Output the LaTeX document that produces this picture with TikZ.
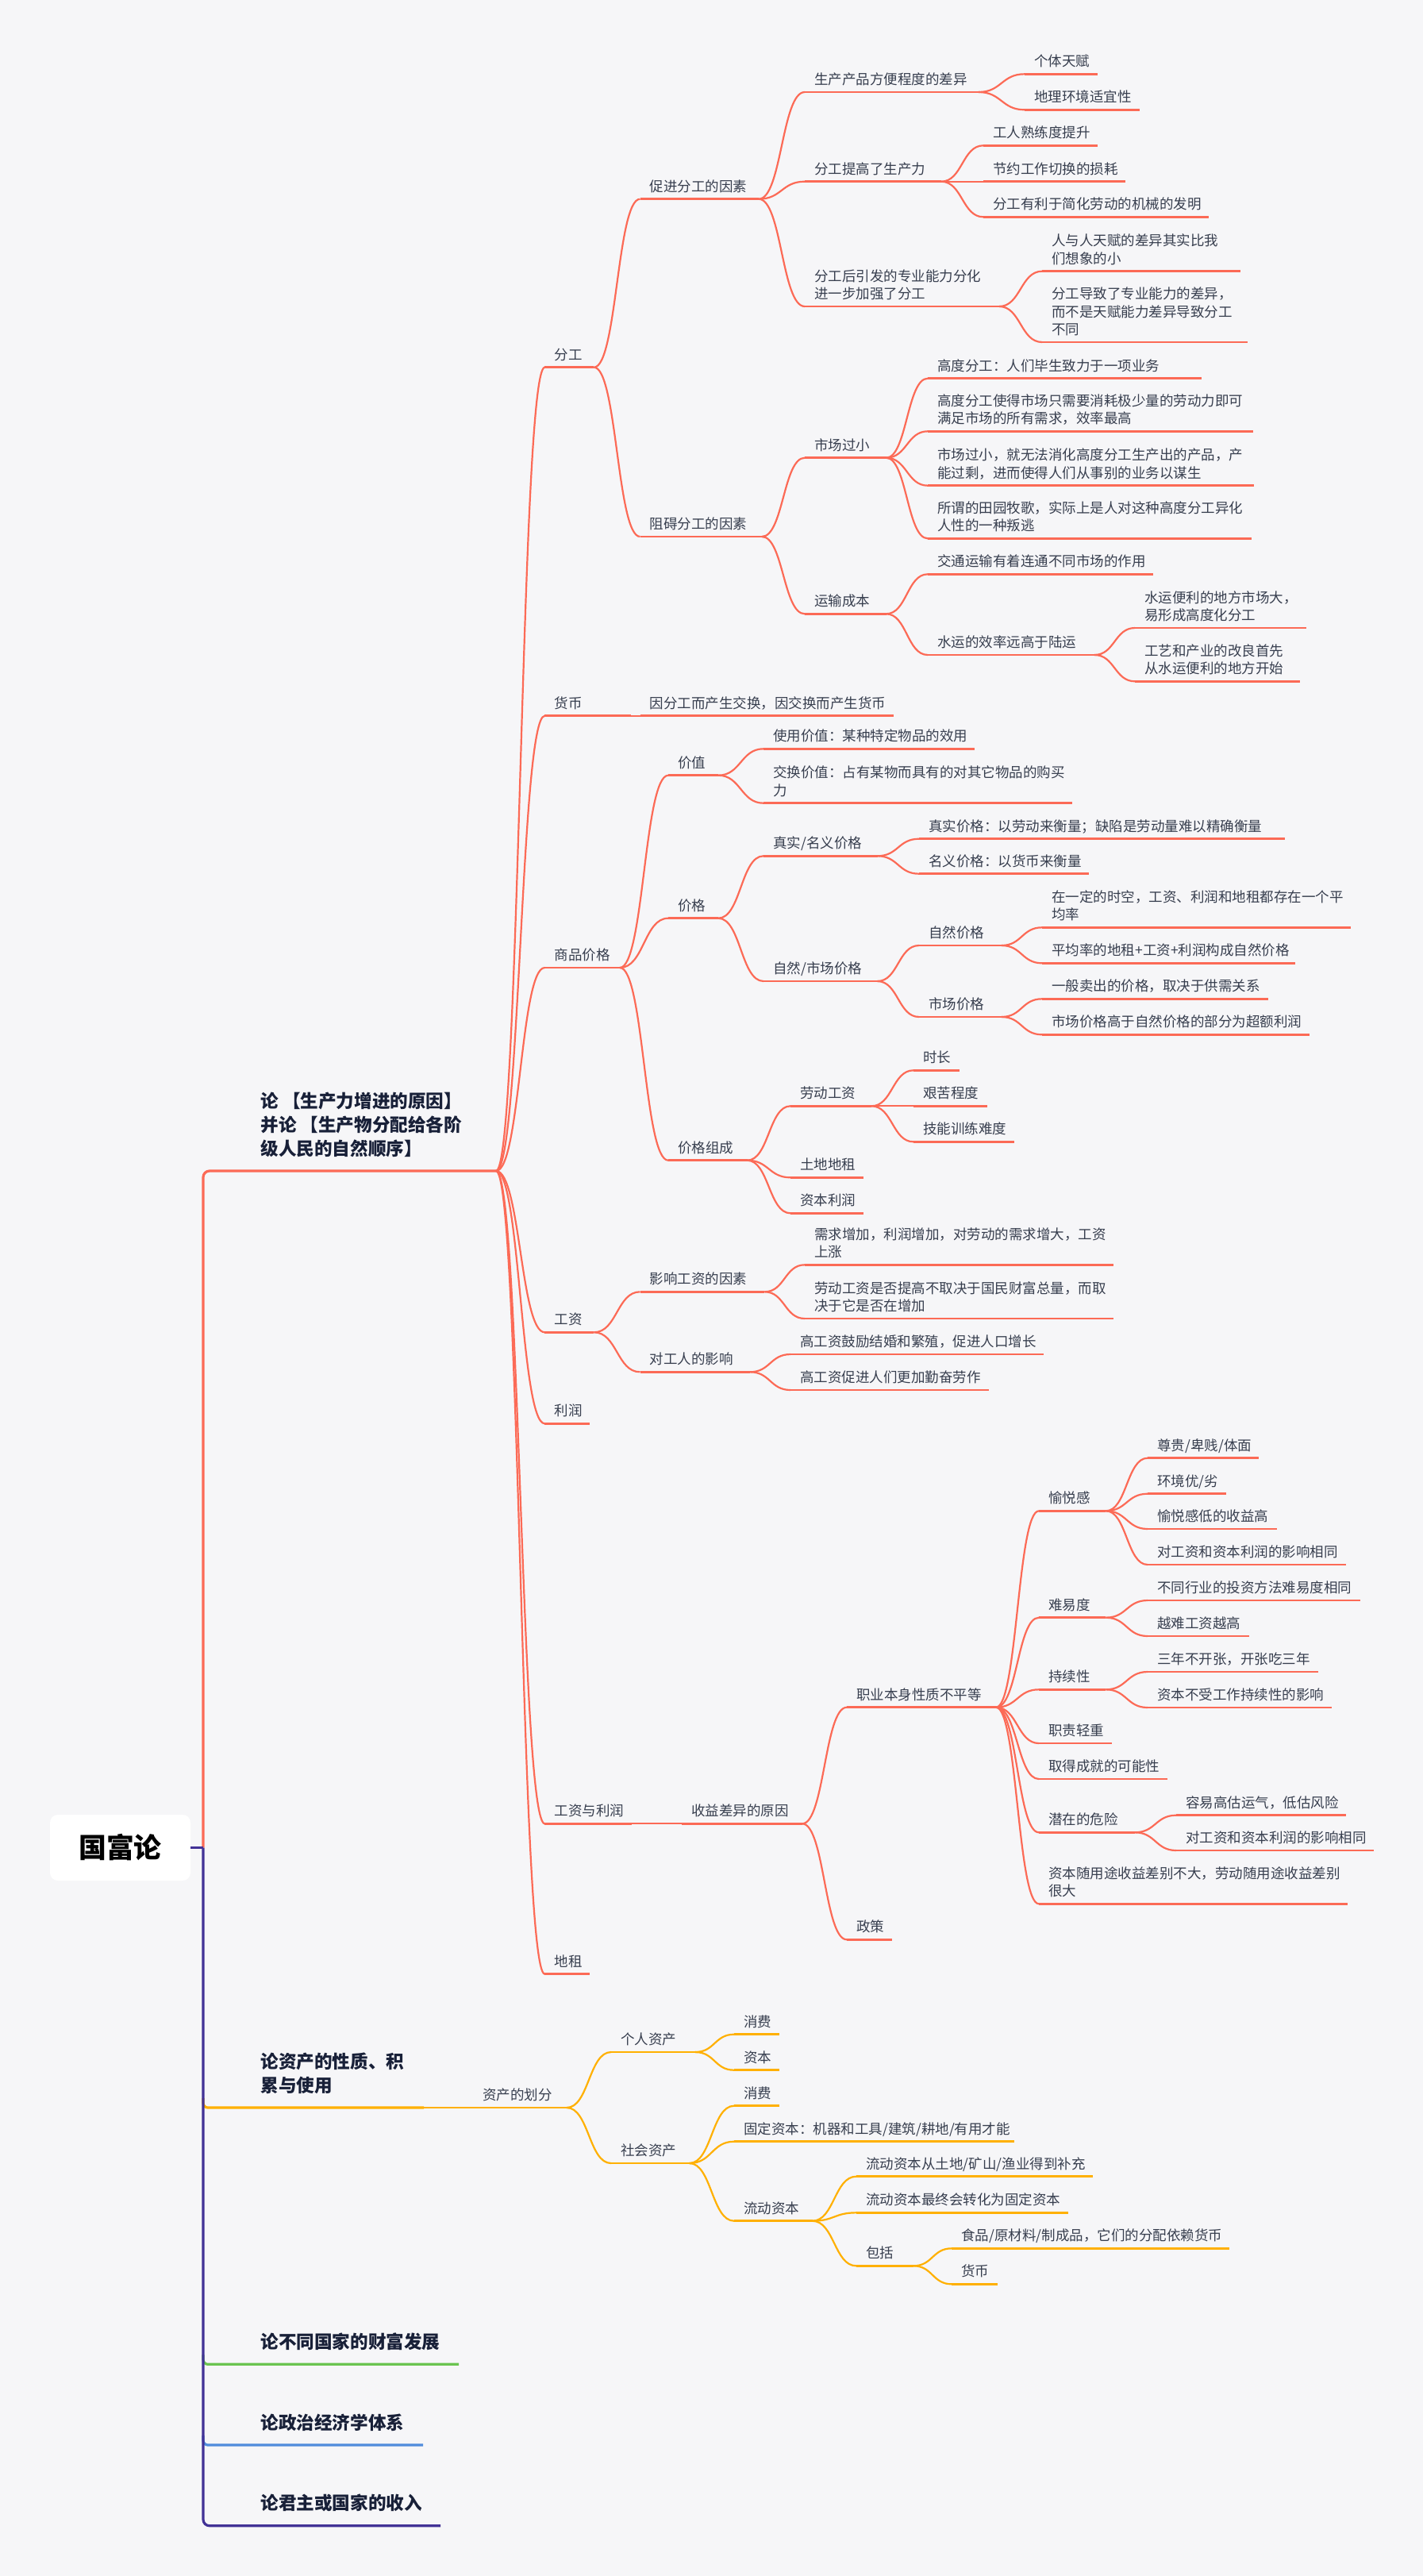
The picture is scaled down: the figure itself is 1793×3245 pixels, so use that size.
\documentclass[tikz,border=0pt]{standalone}
\usepackage{fontspec}
\setmainfont{Noto Sans CJK SC}
\usetikzlibrary{calc}
\definecolor{bg}{RGB}{246,246,248}
\definecolor{cR}{RGB}{252,106,86}
\definecolor{cY}{RGB}{255,176,0}
\definecolor{cG}{RGB}{106,196,80}
\definecolor{cB}{RGB}{80,140,220}
\definecolor{cP}{RGB}{66,50,150}
\definecolor{tx}{RGB}{55,62,78}
\definecolor{tb}{RGB}{24,32,56}
\tikzset{
 txt/.style={inner sep=0pt, anchor=south west, align=left, text=tx, font=\fontsize{8.75pt}{11.15pt}\selectfont},
 ttl/.style={inner sep=0pt, anchor=south west, align=left, text=tb, font=\fontsize{11.3pt}{15pt}\selectfont\bfseries},
 uline/.style={line width=1.4pt},
 conn/.style={line width=1.1pt},
 trunk/.style={line width=1.6pt},
}
\newcommand\mn[6]{%
  \coordinate (#1-s) at (#2,#4);
  \coordinate (#1-e) at (#3,#4);
  \draw[uline,#5] (#1-s) -- (#1-e);
  \node[txt] (#1) at ($(#1-s)+(12,-2.5)$) {#6\strut};
}
\newcommand\tn[3]{%
  \coordinate (#1-s) at (256,#3);
  \coordinate (#1-e) at (#2,#3);
}
\newcommand\lk[3]{%
  \path ($(#1-e)!0.5!(#2-s)$) coordinate (#1-#2-m);
  \draw[conn,#3] (#1-e) .. controls (#1-#2-m |- #1-e) and (#1-#2-m |- #2-s) .. (#2-s);
}
\begin{document}
\begin{tikzpicture}[x=0.5pt,y=-0.5pt]
\fill[bg] (0,0) rectangle (1793,3245);

% root
\node[fill=white, rounded corners=5pt, minimum width=88.5pt, minimum height=41.5pt, inner sep=0pt, font=\fontsize{17.4pt}{20pt}\selectfont\bfseries] (root) at (151.5,2327.5) {国富论};
\coordinate (J) at (256,2327.5);

% top-level nodes
\tn{T1}{625}{1475}
\tn{T2}{534}{2655}
\tn{T3}{578}{2978.3}
\tn{T4}{533}{3080}
\tn{T5}{555}{3181.7}
\node[ttl] (T1) at ($(T1-s)+(72,-10.4)$) {论 【生产力增进的原因】\\并论 【生产物分配给各阶\\级人民的自然顺序】\strut};
\node[ttl] (T2) at ($(T2-s)+(72,-10.4)$) {论资产的性质、积\\累与使用\strut};
\node[ttl] (T3) at ($(T3-s)+(72,-10.4)$) {论不同国家的财富发展\strut};
\node[ttl] (T4) at ($(T4-s)+(72,-10.4)$) {论政治经济学体系\strut};
\node[ttl] (T5) at ($(T5-s)+(72,-10.4)$) {论君主或国家的收入\strut};

\draw[trunk,cR,rounded corners=4pt] (J) -- (T1-s) -- (T1-e);
\draw[trunk,cY,rounded corners=3pt] ($(T2-s)+(0,-12)$) -- (T2-s) -- (T2-e);
\draw[trunk,cG,rounded corners=3pt] ($(T3-s)+(0,-12)$) -- (T3-s) -- (T3-e);
\draw[trunk,cB,rounded corners=3pt] ($(T4-s)+(0,-12)$) -- (T4-s) -- (T4-e);
\draw[trunk,cP,rounded corners=4pt] (J) -- (T5-s) -- (T5-e);
\draw[trunk,cP] (root.east) -- (J);

% ---------- red branch ----------
\mn{a1}{686.4}{748.4}{462.7}{cR}{分工}
\mn{a2}{686.4}{795}{901.7}{cR}{货币}
\mn{a3}{686.4}{781}{1219}{cR}{商品价格}
\mn{a4}{686.4}{748.4}{1678.3}{cR}{工资}
\mn{a5}{686.4}{743.3}{1793.3}{cR}{利润}
\mn{a6}{686.4}{795.8}{2297.3}{cR}{工资与利润}
\mn{a7}{686.4}{743.3}{2486.7}{cR}{地租}

\mn{b1}{806.5}{956}{250.7}{cR}{促进分工的因素}
\mn{b2}{806.5}{960}{676}{cR}{阻碍分工的因素}
\mn{b3}{806.5}{1126}{901.7}{cR}{因分工而产生交换，因交换而产生货币}
\mn{b4}{842}{905}{976.7}{cR}{价值}
\mn{b5}{842}{905}{1156.7}{cR}{价格}
\mn{b6}{842}{941.5}{1461.7}{cR}{价格组成}
\mn{b7}{806.5}{963.4}{1627.3}{cR}{影响工资的因素}
\mn{b8}{806.5}{945}{1728.3}{cR}{对工人的影响}
\mn{b9}{859}{1010.8}{2297.3}{cR}{收益差异的原因}

\mn{c1}{1014}{1233}{116}{cR}{生产产品方便程度的差异}
\mn{c2}{1014}{1186}{228.7}{cR}{分工提高了生产力}
\mn{c3}{1014}{1259}{386}{cR}{分工后引发的专业能力分化\\进一步加强了分工}
\mn{c4}{1014}{1116.5}{576.7}{cR}{市场过小}
\mn{c5}{1014}{1116.5}{773.3}{cR}{运输成本}
\mn{c6}{962}{1228}{943.3}{cR}{使用价值：某种特定物品的效用}
\mn{c7}{962}{1351}{1011.7}{cR}{交换价值：占有某物而具有的对其它物品的购买\\力}
\mn{c8}{962}{1105.5}{1078.3}{cR}{真实/名义价格}
\mn{c9}{962}{1105.5}{1236}{cR}{自然/市场价格}
\mn{c10}{996}{1098}{1393.3}{cR}{劳动工资}
\mn{c11}{996}{1088}{1483.3}{cR}{土地地租}
\mn{c12}{996}{1088}{1528.3}{cR}{资本利润}
\mn{c13}{1014}{1403}{1593.3}{cR}{需求增加，利润增加，对劳动的需求增大，工资\\上涨}
\mn{c14}{1014}{1403}{1661}{cR}{劳动工资是否提高不取决于国民财富总量，而取\\决于它是否在增加}
\mn{c15}{996}{1315.4}{1706}{cR}{高工资鼓励结婚和繁殖，促进人口增长}
\mn{c16}{996}{1246}{1751}{cR}{高工资促进人们更加勤奋劳作}
\mn{c17}{1067}{1255}{2150.7}{cR}{职业本身性质不平等}
\mn{c18}{1067}{1123.8}{2443.3}{cR}{政策}

\mn{d1}{1291}{1383}{93.3}{cR}{个体天赋}
\mn{d2}{1291}{1436}{138.3}{cR}{地理环境适宜性}
\mn{d3}{1239}{1383}{183.3}{cR}{工人熟练度提升}
\mn{d4}{1239}{1418}{228.7}{cR}{节约工作切换的损耗}
\mn{d5}{1239}{1523}{273.3}{cR}{分工有利于简化劳动的机械的发明}
\mn{d6}{1313}{1562.5}{341.7}{cR}{人与人天赋的差异其实比我\\们想象的小}
\mn{d7}{1313}{1572}{431}{cR}{分工导致了专业能力的差异，\\而不是天赋能力差异导致分工\\不同}
\mn{d8}{1169}{1513.7}{476.7}{cR}{高度分工：人们毕生致力于一项业务}
\mn{d9}{1169}{1579}{543.3}{cR}{高度分工使得市场只需要消耗极少量的劳动力即可\\满足市场的所有需求，效率最高}
\mn{d10}{1169}{1580}{611.7}{cR}{市场过小，就无法消化高度分工生产出的产品，产\\能过剩，进而使得人们从事别的业务以谋生}
\mn{d11}{1169}{1577}{678.3}{cR}{所谓的田园牧歌，实际上是人对这种高度分工异化\\人性的一种叛逃}
\mn{d12}{1169}{1453}{723.3}{cR}{交通运输有着连通不同市场的作用}
\mn{d13}{1169}{1379}{825}{cR}{水运的效率远高于陆运}
\mn{d14}{1158}{1619}{1056.7}{cR}{真实价格：以劳动来衡量；缺陷是劳动量难以精确衡量}
\mn{d15}{1158}{1371.6}{1100.7}{cR}{名义价格：以货币来衡量}
\mn{d16}{1158}{1262}{1191}{cR}{自然价格}
\mn{d17}{1158}{1262}{1281}{cR}{市场价格}
\mn{d18}{1151}{1209}{1348.3}{cR}{时长}
\mn{d19}{1151}{1244}{1393.3}{cR}{艰苦程度}
\mn{d20}{1151}{1278}{1438.3}{cR}{技能训练难度}
\mn{d21}{1309}{1393.4}{1903.3}{cR}{愉悦感}
\mn{d22}{1309}{1393.4}{2037.7}{cR}{难易度}
\mn{d23}{1309}{1393.4}{2128.3}{cR}{持续性}
\mn{d24}{1309}{1400.7}{2196}{cR}{职责轻重}
\mn{d25}{1309}{1471.4}{2241}{cR}{取得成就的可能性}
\mn{d26}{1309}{1430}{2308.3}{cR}{潜在的危险}
\mn{d27}{1309}{1698}{2398.3}{cR}{资本随用途收益差别不大，劳动随用途收益差别\\很大}

\mn{e1}{1430}{1645.6}{791}{cR}{水运便利的地方市场大，\\易形成高度化分工}
\mn{e2}{1430}{1638}{858.3}{cR}{工艺和产业的改良首先\\从水运便利的地方开始}
\mn{e3}{1313}{1701.7}{1168.3}{cR}{在一定的时空，工资、利润和地租都存在一个平\\均率}
\mn{e4}{1313}{1631.8}{1213.3}{cR}{平均率的地租+工资+利润构成自然价格}
\mn{e5}{1313}{1597.5}{1258.3}{cR}{一般卖出的价格，取决于供需关系}
\mn{e6}{1313}{1650}{1303.3}{cR}{市场价格高于自然价格的部分为超额利润}
\mn{e7}{1446}{1586}{1836.7}{cR}{尊贵/卑贱/体面}
\mn{e8}{1446}{1545}{1881.7}{cR}{环境优/劣}
\mn{e9}{1446}{1608.5}{1926}{cR}{愉悦感低的收益高}
\mn{e10}{1446}{1696}{1971}{cR}{对工资和资本利润的影响相同}
\mn{e11}{1446}{1714}{2016}{cR}{不同行业的投资方法难易度相同}
\mn{e12}{1446}{1574}{2061}{cR}{越难工资越高}
\mn{e13}{1446}{1661}{2106}{cR}{三年不开张，开张吃三年}
\mn{e14}{1446}{1678.4}{2151}{cR}{资本不受工作持续性的影响}
\mn{e15}{1482}{1696}{2286.7}{cR}{容易高估运气，低估风险}
\mn{e16}{1482}{1731}{2331}{cR}{对工资和资本利润的影响相同}

\foreach \p/\c in {T1/a1,T1/a2,T1/a3,T1/a4,T1/a5,T1/a6,T1/a7,
  a1/b1,a1/b2,a2/b3,a3/b4,a3/b5,a3/b6,a4/b7,a4/b8,a6/b9,
  b1/c1,b1/c2,b1/c3,b2/c4,b2/c5,b4/c6,b4/c7,b5/c8,b5/c9,b6/c10,b6/c11,b6/c12,
  b7/c13,b7/c14,b8/c15,b8/c16,b9/c17,b9/c18,
  c1/d1,c1/d2,c2/d3,c2/d4,c2/d5,c3/d6,c3/d7,c4/d8,c4/d9,c4/d10,c4/d11,c5/d12,c5/d13,
  c8/d14,c8/d15,c9/d16,c9/d17,c10/d18,c10/d19,c10/d20,
  c17/d21,c17/d22,c17/d23,c17/d24,c17/d25,c17/d26,c17/d27,
  d13/e1,d13/e2,d16/e3,d16/e4,d17/e5,d17/e6,d21/e7,d21/e8,d21/e9,d21/e10,
  d22/e11,d22/e12,d23/e13,d23/e14,d26/e15,d26/e16}
  {\lk{\p}{\c}{cR}}

% ---------- yellow branch ----------
\mn{f1}{596}{714}{2655}{cY}{资产的划分}
\mn{g1}{770}{876}{2585}{cY}{个人资产}
\mn{g2}{770}{868.6}{2725}{cY}{社会资产}
\mn{h1}{925}{981.6}{2562.7}{cY}{消费}
\mn{h2}{925}{981.6}{2607.7}{cY}{资本}
\mn{h3}{925}{981.6}{2652.7}{cY}{消费}
\mn{h4}{925}{1278}{2697.7}{cY}{固定资本：机器和工具/建筑/耕地/有用才能}
\mn{h5}{925}{1023.5}{2797.7}{cY}{流动资本}
\mn{i1}{1079}{1376.5}{2741.7}{cY}{流动资本从土地/矿山/渔业得到补充}
\mn{i2}{1079}{1346.4}{2787.3}{cY}{流动资本最终会转化为固定资本}
\mn{i3}{1079}{1151}{2854.3}{cY}{包括}
\mn{j1}{1199}{1549}{2832.3}{cY}{食品/原材料/制成品，它们的分配依赖货币}
\mn{j2}{1199}{1256.6}{2877.3}{cY}{货币}
\foreach \p/\c in {T2/f1,f1/g1,f1/g2,g1/h1,g1/h2,g2/h3,g2/h4,g2/h5,h5/i1,h5/i2,h5/i3,i3/j1,i3/j2}
  {\lk{\p}{\c}{cY}}
\end{tikzpicture}
\end{document}
